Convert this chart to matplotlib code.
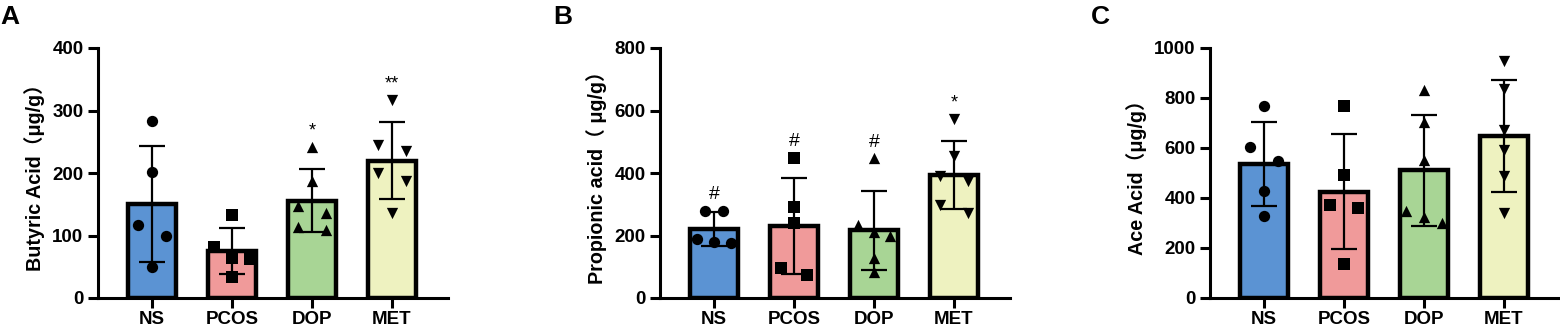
import numpy as np
import matplotlib
matplotlib.use("Agg")
import matplotlib.pyplot as plt

plt.rcParams['font.family'] = ['Liberation Sans', 'Noto Sans CJK SC', 'DejaVu Sans']

groups = ["NS", "PCOS", "DOP", "MET"]
colors = ["#5B93D3", "#F09A9A", "#A8D595", "#EEF2C0"]
markers = ["o", "s", "^", "v"]

# Panel A: Butyric acid (ug/g)
butyric_NS = [283.5, 201.6, 117, 100, 50]
butyric_PCOS = [133, 81, 64, 63, 34]
butyric_DOP = [241.5, 187, 147, 135.5, 114, 108.7]
butyric_MET = [317, 244.6, 234.6, 199.5, 187, 136.5]
butyric_sig = ["", "", "*", "**"]

# Panel B: Propionic acid (ug/g)
propionic_NS = [280, 280, 190, 178, 175]
propionic_PCOS = [449, 290, 240, 95.5, 73]
propionic_DOP = [447, 235, 211, 200, 127, 82]
propionic_MET = [573, 453, 390, 374, 298, 271]
propionic_sig = ["#", "#", "#", "*"]

# Panel C: Acetic acid (ug/g)
ace_NS = [768, 606, 550, 429, 327]
ace_PCOS = [769, 492, 371, 361, 135]
ace_DOP = [833, 705, 554, 350, 324, 300.5]
ace_MET = [950, 836, 672, 593, 488, 340]
ace_sig = ["", "", "", ""]

# horizontal jitter of the points (layout only)
jit_A = [[0, 0, -0.17, 0.17, 0],
         [0, -0.22, 0, 0.22, 0],
         [0, 0, -0.17, 0.17, -0.17, 0.17],
         [0, -0.17, 0.17, -0.17, 0.17, 0]]
jit_B = [[-0.11, 0.11, -0.21, 0, 0.21],
         [0, 0, 0, -0.16, 0.16],
         [0, -0.2, 0, 0.2, 0, 0],
         [0, 0, -0.17, 0.17, -0.17, 0.17]]
jit_C = [[0, -0.17, 0.17, 0, 0],
         [0, 0, -0.17, 0.17, 0],
         [0, 0, 0, -0.22, 0, 0.22],
         [0, 0, 0, 0, 0, 0]]

panels = [
    dict(letter="A", data=[butyric_NS, butyric_PCOS, butyric_DOP, butyric_MET],
         sig=butyric_sig, jit=jit_A, ylabel="Butyric Acid（μg/g）",
         ymax=400, step=100, left=98, lx=0),
    dict(letter="B", data=[propionic_NS, propionic_PCOS, propionic_DOP, propionic_MET],
         sig=propionic_sig, jit=jit_B, ylabel="Propionic acid（ μg/g）",
         ymax=800, step=200, left=660, lx=553),
    dict(letter="C", data=[ace_NS, ace_PCOS, ace_DOP, ace_MET],
         sig=ace_sig, jit=jit_C, ylabel="Ace Acid（μg/g）",
         ymax=1000, step=200, left=1210, lx=1091),
]

W, H = 1560, 333
fig = plt.figure(figsize=(W / 100, H / 100), dpi=100)

for p in panels:
    ax = fig.add_axes([p["left"] / W, 35 / H, 350 / W, 250 / H])
    x = np.arange(len(groups))
    means = [np.mean(d) for d in p["data"]]
    sds = [np.std(d, ddof=1) for d in p["data"]]
    ax.bar(x, means, width=0.59, color=colors, edgecolor="black", linewidth=3.2, zorder=1)
    ax.errorbar(x, means, yerr=sds, fmt="none", ecolor="black", elinewidth=1.6,
                capsize=9.5, capthick=1.6, zorder=3)
    for i, d in enumerate(p["data"]):
        xs = x[i] + np.array(p["jit"][i])
        ax.scatter(xs, d, marker=markers[i], s=66, color="black", zorder=4, linewidths=0)
    for i, s in enumerate(p["sig"]):
        if s:
            top = max(max(p["data"][i]), means[i] + sds[i])
            fs = 14 if s == "#" else 13
            ax.text(x[i], top + p["ymax"] * 0.03, s, ha="center", va="bottom", fontsize=fs)
    ax.set_xlim(-0.675, 3.7)
    ax.set_ylim(0, p["ymax"])
    ax.set_yticks(np.arange(0, p["ymax"] + 1, p["step"]))
    ax.set_xticks(x)
    ax.set_xticklabels(groups, fontsize=13.5, fontweight="bold")
    for lab in ax.get_yticklabels():
        lab.set_fontsize(13.5)
        lab.set_fontweight("bold")
    ax.spines["top"].set_visible(False)
    ax.spines["right"].set_visible(False)
    for sp in ["left", "bottom"]:
        ax.spines[sp].set_linewidth(2.2)
    ax.tick_params(axis="y", direction="out", length=7.5, width=2.2, pad=3)
    ax.tick_params(axis="x", direction="out", length=7, width=2.2, pad=2)
    ax.set_ylabel(p["ylabel"], fontsize=14.2, fontweight="bold", labelpad=5)
    fig.text(p["lx"] / W, 0.985, p["letter"], fontsize=19, fontweight="bold",
             ha="left", va="top")

fig.savefig("out.png", dpi=100)
